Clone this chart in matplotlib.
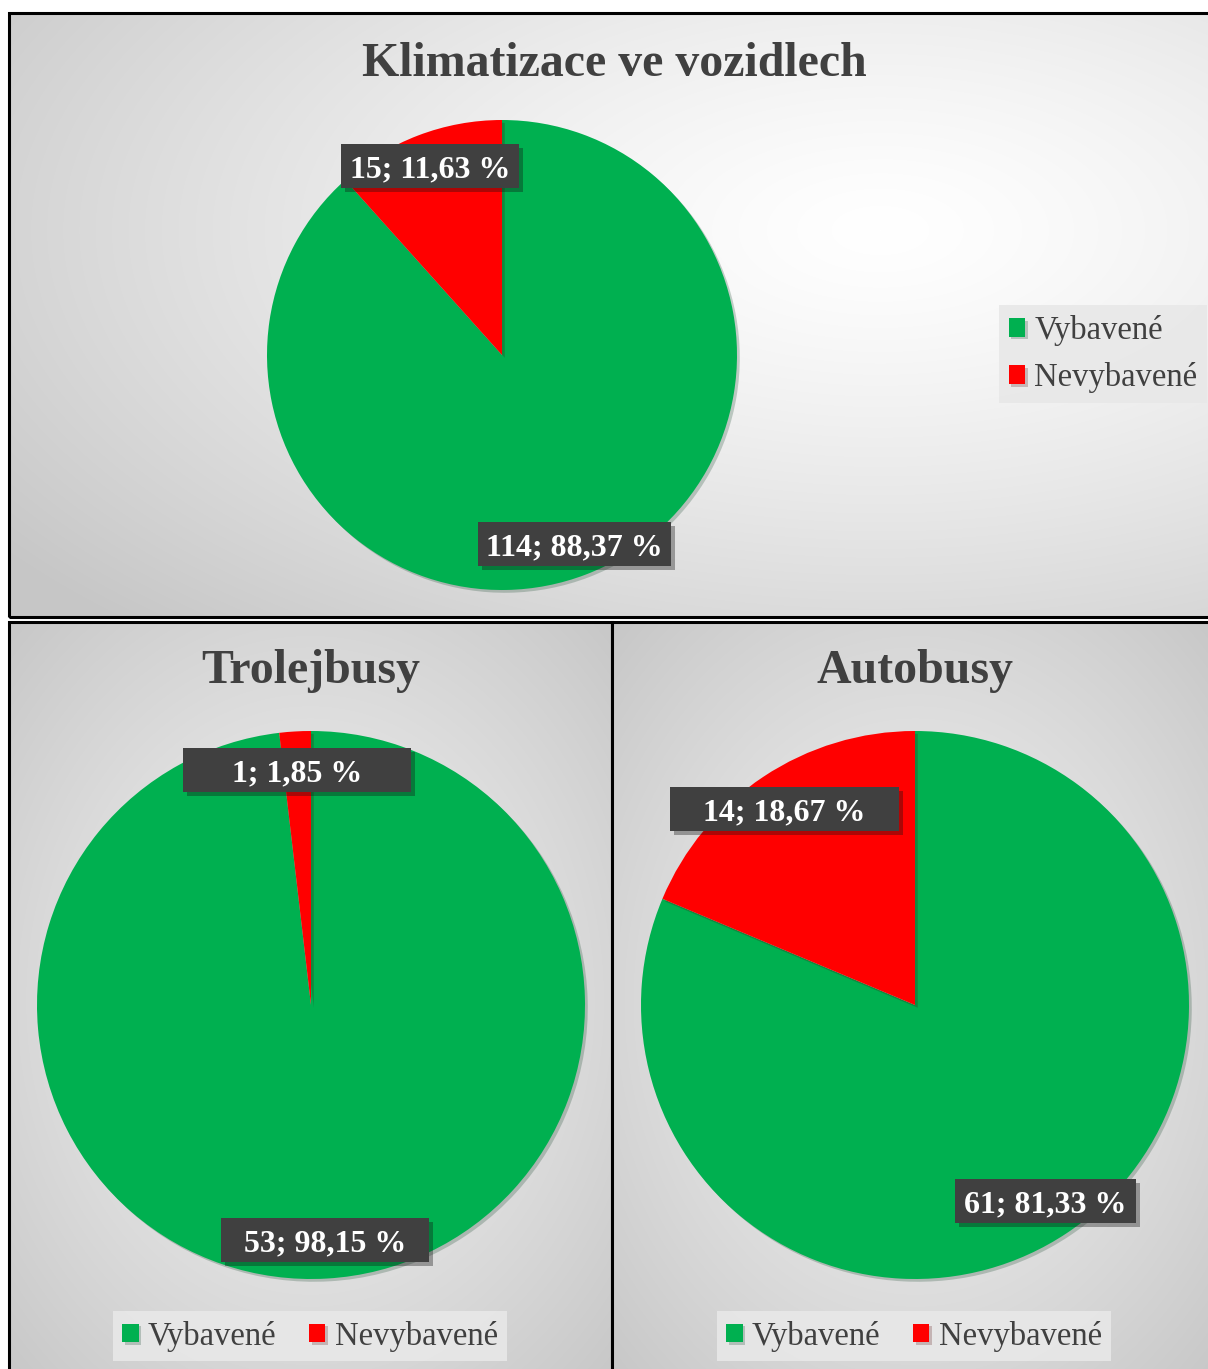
import numpy as np
import matplotlib
matplotlib.use("Agg")
import matplotlib.pyplot as plt
from matplotlib.patches import Rectangle
import matplotlib.patheffects as pe

plt.rcParams['font.family'] = ['Liberation Serif', 'DejaVu Serif']

# ---- data ----
categories = ["Vybavené", "Nevybavené"]
titles = ["Klimatizace ve vozidlech", "Trolejbusy", "Autobusy"]
values_all = [114, 15]
values_trol = [53, 1]
values_auto = [61, 14]

GREEN = "#00b050"
RED = "#ff0000"
TXT = "#404040"

W, H = 1208, 1369
fig = plt.figure(figsize=(W / 100, H / 100), dpi=100)


def frect(x0, y0, x1, y1):
    return [x0 / W, 1 - y1 / H, (x1 - x0) / W, (y1 - y0) / H]


def panel_bg(x0, y0, x1, y1, cx, cy, light=0.97, dark=0.76, scale=1.0):
    ax = fig.add_axes(frect(x0, y0, x1, y1), zorder=0)
    w, h = int(x1 - x0), int(y1 - y0)
    yy, xx = np.mgrid[0:h, 0:w]
    d = np.sqrt(((xx + x0 - cx) / (scale * w)) ** 2 + ((yy + y0 - cy) / (scale * h)) ** 2)
    d = np.clip(d / 0.75, 0, 1)
    g = light - (light - dark) * d ** 1.3
    img = np.dstack([g, g, g])
    ax.imshow(img, extent=[0, 1, 0, 1], aspect='auto', interpolation='bilinear')
    ax.set_axis_off()
    ax.add_patch(Rectangle((0, 0), 1, 1, transform=ax.transAxes, fill=False,
                           edgecolor='black', linewidth=2.2, clip_on=False))
    return ax


panel_bg(9, 13, 1210, 617, 880, 230, light=1.0, dark=0.78, scale=1.2)
panel_bg(9, 622, 612, 1371, 310, 1000, light=0.94, dark=0.77)
panel_bg(612, 622, 1210, 1371, 915, 1000, light=0.94, dark=0.77)


def fmt_factory(vals):
    total = sum(vals)

    def f(p):
        v = int(round(p * total / 100))
        return f"{v}; {p:.2f} %".replace(".", ",")
    return f


def draw_pie(vals, cx, cy, r, fs, box_w, box_h=44):
    ax = fig.add_axes(frect(cx - r, cy - r, cx + r, cy + r), zorder=2)
    wedges, texts, autotexts = ax.pie(
        vals, colors=[GREEN, RED], startangle=90, counterclock=False,
        radius=1.0, autopct=fmt_factory(vals), pctdistance=0.86,
        wedgeprops=dict(linewidth=0, edgecolor='none'),
        textprops=dict(color='white', fontsize=fs, fontweight='bold'))
    for w in wedges:
        w.set_path_effects([pe.SimplePatchShadow(offset=(2, -2), alpha=0.22), pe.Normal()])
    for t, bw in zip(autotexts, box_w):
        x, y = t.get_position()
        t.set_va('center')
        t.set_position((x, y - 4 / r))
        t.set_zorder(4)
        rect = Rectangle((x - bw / 2 / r, y - box_h / 2 / r), bw / r, box_h / r,
                         facecolor='#404040', edgecolor='none', zorder=3, clip_on=False)
        rect.set_path_effects([pe.SimplePatchShadow(offset=(3, -3), alpha=0.35), pe.Normal()])
        ax.add_patch(rect)
    ax.set_xlim(-1, 1)
    ax.set_ylim(-1, 1)
    ax.set_aspect('equal')
    ax.set_axis_off()
    return wedges


w1 = draw_pie(values_all, 502, 355, 235, 23, [193, 178])
w2 = draw_pie(values_trol, 311, 1005, 274, 23, [208, 228])
w3 = draw_pie(values_auto, 915, 1005, 274, 23, [181, 229])

fig.text(614 / W, 1 - 64 / H, titles[0], ha='center', va='center', fontsize=34.5,
         fontweight='bold', color=TXT, zorder=5)
fig.text(311 / W, 1 - 671 / H, titles[1], ha='center', va='center', fontsize=34.5,
         fontweight='bold', color=TXT, zorder=5)
fig.text(915 / W, 1 - 671 / H, titles[2], ha='center', va='center', fontsize=34.5,
         fontweight='bold', color=TXT, zorder=5)

leg_kw = dict(frameon=True, facecolor='#e8e8e8', edgecolor='none', framealpha=0.9,
              fancybox=False, handlelength=0.5, handleheight=0.5, handletextpad=0.28,
              prop=dict(size=23.5), labelcolor=TXT)

l1 = fig.legend(w1, categories, loc='center', bbox_to_anchor=(1103 / W, 1 - 354 / H),
                ncol=1, labelspacing=0.5, borderpad=0.3, **leg_kw)
l2 = fig.legend(w2, categories, loc='center', bbox_to_anchor=(310 / W, 1 - 1336 / H),
                ncol=2, columnspacing=1.0, borderpad=0.3, borderaxespad=0, **leg_kw)
l3 = fig.legend(w3, categories, loc='center', bbox_to_anchor=(914 / W, 1 - 1336 / H),
                ncol=2, columnspacing=1.0, borderpad=0.3, borderaxespad=0, **leg_kw)
for l in (l1, l2, l3):
    l.set_zorder(6)

fig.savefig("out.png", dpi=100)
